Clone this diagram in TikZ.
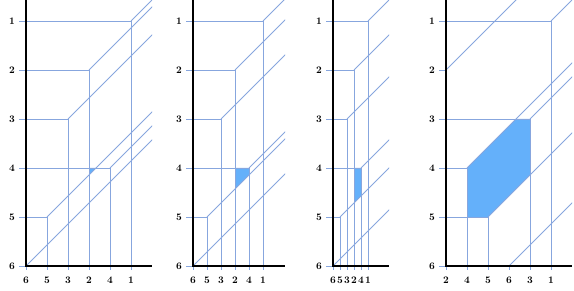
\documentclass[tikz,border=0pt]{standalone}
\usetikzlibrary{calc}
\definecolor{gridblue}{RGB}{135,166,222}
\definecolor{areablue}{RGB}{100,176,250}
\begin{document}
\begin{tikzpicture}[x=1pt,y=-1pt,
  gridline/.style={draw=gridblue,line width=0.9pt},
  axisline/.style={black,line width=1.6pt},
  region/.style={fill=areablue,draw=none},
  tick/.style={font=\bfseries,inner sep=0pt}]
\useasboundingbox (0,0) rectangle (574,291);

% first panel
\begin{scope}[shift={(26,0)}]
\foreach \r/\p [evaluate=\r as \y using 21+49*(\r-1)] in {1/5,2/3,3/2,4/4,5/1,6/0} {
  \coordinate (a\r) at (21*\p,\y);
  \node[tick] (la\r) at (-14,\y) {\r};
}
\fill[region] (a2 |- a4) -- ($(a5)+(49,-49)$) -- ($(a5)+(42,-42)$) -- cycle;
\foreach \r/\p [evaluate=\r as \y using 21+49*(\r-1)] in {1/5,2/3,3/2,4/4,5/1,6/0}
  \draw[gridline] (-7,\y) -- (a\r) -- (21*\p,270.5);
\begin{scope}
\clip (0,0) rectangle (126,266);
\foreach \r in {1,...,6}
  \draw[gridline] (a\r) -- ++(200,-200);
\end{scope}
\draw[axisline] (0,0) -- (0,266) -- (126,266);
\foreach \c [count=\k from 0] in {6,5,3,2,4,1}
  \node[tick] (ca\c) at (21*\k,280) {\c};
\end{scope}

% second panel
\begin{scope}[shift={(193,0)}]
\foreach \r/\p [evaluate=\r as \y using 21+49*(\r-1)] in {1/5,2/3,3/2,4/4,5/1,6/0} {
  \coordinate (b\r) at (14*\p,\y);
  \node[tick] (lb\r) at (-14,\y) {\r};
}
\fill[region] (b2 |- b4) -- (b4) -- ($(b5)+(42,-42)$) -- ($(b5)+(28,-28)$) -- cycle;
\foreach \r/\p [evaluate=\r as \y using 21+49*(\r-1)] in {1/5,2/3,3/2,4/4,5/1,6/0}
  \draw[gridline] (-7,\y) -- (b\r) -- (14*\p,270.5);
\begin{scope}
\clip (0,0) rectangle (92,266);
\foreach \r in {1,...,6}
  \draw[gridline] (b\r) -- ++(200,-200);
\end{scope}
\draw[axisline] (0,0) -- (0,266) -- (92,266);
\foreach \c [count=\k from 0] in {6,5,3,2,4,1}
  \node[tick] (cb\c) at (14*\k,280) {\c};
\end{scope}

% third panel
\begin{scope}[shift={(333,0)}]
\foreach \r/\p [evaluate=\r as \y using 21+49*(\r-1)] in {1/5,2/3,3/2,4/4,5/1,6/0} {
  \coordinate (c\r) at (7*\p,\y);
  \node[tick] (lc\r) at (-14,\y) {\r};
}
\fill[region] (c2 |- c4) -- (c4) -- ($(c5)+(21,-21)$) -- ($(c5)+(14,-14)$) -- cycle;
\foreach \r/\p [evaluate=\r as \y using 21+49*(\r-1)] in {1/5,2/3,3/2,4/4,5/1,6/0}
  \draw[gridline] (-7,\y) -- (c\r) -- (7*\p,270.5);
\begin{scope}
\clip (0,0) rectangle (56,266);
\foreach \r in {1,...,6}
  \draw[gridline] (c\r) -- ++(200,-200);
\end{scope}
\draw[axisline] (0,0) -- (0,266) -- (56,266);
\foreach \c [count=\k from 0] in {6,5,3,2,4,1}
  \node[tick] (cc\c) at (7*\k,280) {\c};
\end{scope}

% fourth panel
\begin{scope}[shift={(446,0)}]
\foreach \r/\p [evaluate=\r as \y using 21+49*(\r-1)] in {1/5,2/0,3/4,4/1,5/2,6/3} {
  \coordinate (d\r) at (21*\p,\y);
  \node[tick] (ld\r) at (-14,\y) {\r};
}
\fill[region] (d4) -- ($(d4)+(49,-49)$) -- (d3) -- ($(d5)+(42,-42)$) -- (d5) -- (d4 |- d5) -- cycle;
\foreach \r/\p [evaluate=\r as \y using 21+49*(\r-1)] in {1/5,2/0,3/4,4/1,5/2,6/3}
  \draw[gridline] (-7,\y) -- (d\r) -- (21*\p,270.5);
\begin{scope}
\clip (0,0) rectangle (126,266);
\foreach \r in {1,...,6}
  \draw[gridline] (d\r) -- ++(200,-200);
\end{scope}
\draw[axisline] (0,0) -- (0,266) -- (126,266);
\foreach \c [count=\k from 0] in {2,4,5,6,3,1}
  \node[tick] (cd\c) at (21*\k,280) {\c};
\end{scope}
\end{tikzpicture}
\end{document}
